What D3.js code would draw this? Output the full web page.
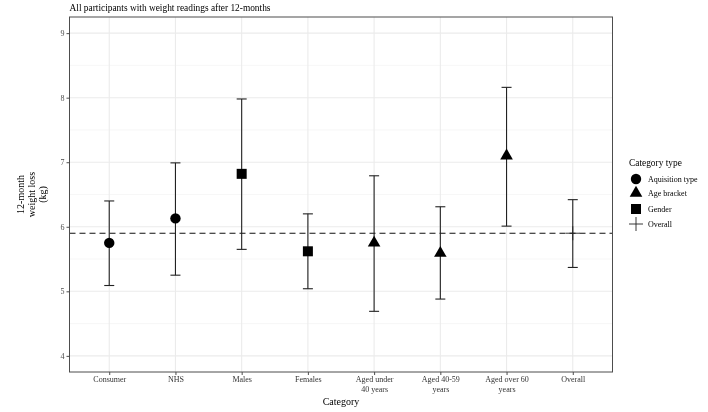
<!DOCTYPE html>
<html>
<head>
<meta charset="utf-8">
<script src="https://cdn.jsdelivr.net/npm/d3@7"></script>
<style>
  html, body { margin: 0; padding: 0; background: #fff; }
  svg { display: block; will-change: transform; -webkit-font-smoothing: antialiased; }
  svg text { font-family: "Liberation Serif", "Times New Roman", serif; }
</style>
</head>
<body>
<svg id="chart" width="708" height="412"></svg>
<script>
// ---- data ----
const categories = ["Consumer", "NHS", "Males", "Females", "Aged under 40 years", "Aged 40-59 years", "Aged over 60 years", "Overall"];
const categoryLabels = [["Consumer"], ["NHS"], ["Males"], ["Females"], ["Aged under", "40 years"], ["Aged 40-59", "years"], ["Aged over 60", "years"], ["Overall"]];
const categoryType = ["Aquisition type", "Aquisition type", "Gender", "Gender", "Age bracket", "Age bracket", "Age bracket", "Overall"];
const meanLoss = [5.75, 6.13, 6.82, 5.62, 5.75, 5.59, 7.10, 5.90];
const lowerCI = [5.09, 5.25, 5.65, 5.04, 4.69, 4.88, 6.01, 5.37];
const upperCI = [6.40, 6.99, 7.98, 6.20, 6.79, 6.31, 8.16, 6.42];
const overallMean = 5.90;
const legendTypes = ["Aquisition type", "Age bracket", "Gender", "Overall"];
const yTicks = [4, 5, 6, 7, 8, 9];
const yMinor = [4.5, 5.5, 6.5, 7.5, 8.5];

// ---- layout ----
const svg = d3.select("#chart");
const panel = { left: 69.5, right: 612.5, top: 17, bottom: 372 };

const x = d3.scalePoint().domain(categories).range([panel.left, panel.right]).padding(0.6);
const y = d3.scaleLinear().domain([3.75, 9.25]).range([panel.bottom, panel.top]);

const g = svg.append("g");

// gridlines
g.selectAll("line.minor").data(yMinor).join("line")
  .attr("x1", panel.left).attr("x2", panel.right)
  .attr("y1", d => y(d)).attr("y2", d => y(d))
  .attr("stroke", "#f2f2f2").attr("stroke-width", 0.6);
g.selectAll("line.majorY").data(yTicks).join("line")
  .attr("x1", panel.left).attr("x2", panel.right)
  .attr("y1", d => y(d)).attr("y2", d => y(d))
  .attr("stroke", "#ebebeb").attr("stroke-width", 1.1);
g.selectAll("line.majorX").data(categories).join("line")
  .attr("x1", d => x(d)).attr("x2", d => x(d))
  .attr("y1", panel.top).attr("y2", panel.bottom)
  .attr("stroke", "#ebebeb").attr("stroke-width", 1.1);

// dashed overall line
g.append("line")
  .attr("x1", panel.left).attr("x2", panel.right)
  .attr("y1", y(overallMean)).attr("y2", y(overallMean))
  .attr("stroke", "#111").attr("stroke-width", 1.2)
  .attr("stroke-dasharray", "6,4");

// error bars
const rows = categories.map((c, i) => ({ c, type: categoryType[i], m: meanLoss[i], lo: lowerCI[i], hi: upperCI[i] }));
const eb = g.selectAll("g.eb").data(rows).join("g");
eb.append("line")
  .attr("x1", d => x(d.c)).attr("x2", d => x(d.c))
  .attr("y1", d => y(d.lo)).attr("y2", d => y(d.hi))
  .attr("stroke", "#222").attr("stroke-width", 1.1);
eb.append("line")
  .attr("x1", d => x(d.c) - 5).attr("x2", d => x(d.c) + 5)
  .attr("y1", d => y(d.lo)).attr("y2", d => y(d.lo))
  .attr("stroke", "#222").attr("stroke-width", 1.1);
eb.append("line")
  .attr("x1", d => x(d.c) - 5).attr("x2", d => x(d.c) + 5)
  .attr("y1", d => y(d.hi)).attr("y2", d => y(d.hi))
  .attr("stroke", "#222").attr("stroke-width", 1.1);

// markers
function drawShape(sel, type, cx, cy) {
  if (type === "Aquisition type") {
    sel.append("circle").attr("cx", cx).attr("cy", cy).attr("r", 5.2).attr("fill", "#000");
  } else if (type === "Gender") {
    sel.append("rect").attr("x", cx - 5).attr("y", cy - 5).attr("width", 10).attr("height", 10).attr("fill", "#000");
  } else if (type === "Age bracket") {
    const s = 12.6, h = s * Math.sqrt(3) / 2;
    sel.append("path")
      .attr("d", `M${cx},${cy - h * 2 / 3}L${cx + s / 2},${cy + h / 3}L${cx - s / 2},${cy + h / 3}Z`)
      .attr("fill", "#000");
  } else {
    sel.append("path")
      .attr("d", `M${cx - 7},${cy}H${cx + 7}M${cx},${cy - 7}V${cy + 7}`)
      .attr("stroke", "#222").attr("stroke-width", 0.9).attr("fill", "none");
  }
}
rows.forEach(d => drawShape(g, d.type, x(d.c), y(d.m)));

// panel border
g.append("rect")
  .attr("x", panel.left).attr("y", panel.top)
  .attr("width", panel.right - panel.left).attr("height", panel.bottom - panel.top)
  .attr("fill", "none").attr("stroke", "#4d4d4d").attr("stroke-width", 1);

// y axis
const yAxis = d3.axisLeft(y).tickValues(yTicks).tickSize(3).tickPadding(2).tickFormat(d3.format("d"));
const ya = svg.append("g").attr("transform", `translate(${panel.left},0)`).call(yAxis)
  .attr("font-family", null).attr("font-size", null);
ya.select(".domain").remove();
ya.selectAll(".tick line").attr("stroke", "#4d4d4d");
ya.selectAll(".tick text").attr("fill", "#4d4d4d").style("font-size", "8px");

// x axis
const xAxis = d3.axisBottom(x).tickSize(3).tickPadding(2).tickFormat("");
const xa = svg.append("g").attr("transform", `translate(0,${panel.bottom})`).call(xAxis)
  .attr("font-family", null).attr("font-size", null);
xa.select(".domain").remove();
xa.selectAll(".tick text").remove();
xa.selectAll(".tick line").attr("stroke", "#4d4d4d");
xa.selectAll(".tick").each(function(d, i) {
  const t = d3.select(this).append("text")
    .attr("fill", "#333").attr("text-anchor", "middle")
    .style("font-size", "8px");
  categoryLabels[i].forEach((ln, j) => {
    t.append("tspan").attr("x", 0).attr("y", 10 + j * 9.5).text(ln);
  });
});

// axis titles
svg.append("text").attr("x", (panel.left + panel.right) / 2).attr("y", 405)
  .attr("text-anchor", "middle").style("font-size", "10px").attr("fill", "#000").text("Category");

const yt = svg.append("text")
  .attr("transform", `translate(31,${(panel.top + panel.bottom) / 2}) rotate(-90)`)
  .attr("text-anchor", "middle").style("font-size", "10px").attr("fill", "#000");
["12-month", "weight loss", "(kg)"].forEach((ln, j) => {
  yt.append("tspan").attr("x", 0).attr("y", (j - 1) * 11 + 3.5).text(ln);
});

// title
svg.append("text").attr("x", panel.left).attr("y", 10.5)
  .style("font-size", "9.4px").attr("fill", "#000")
  .text("All participants with weight readings after 12-months");

// legend
const lg = svg.append("g");
lg.append("text").attr("x", 629).attr("y", 166).style("font-size", "9.4px").attr("fill", "#000").text("Category type");
const legendY = [179, 193, 209, 224];
legendTypes.forEach((t, i) => {
  drawShape(lg, t, 636, legendY[i]);
  lg.append("text").attr("x", 648).attr("y", legendY[i] + 2.8)
    .style("font-size", "8px").attr("fill", "#000").text(t);
});
</script>
</body>
</html>
